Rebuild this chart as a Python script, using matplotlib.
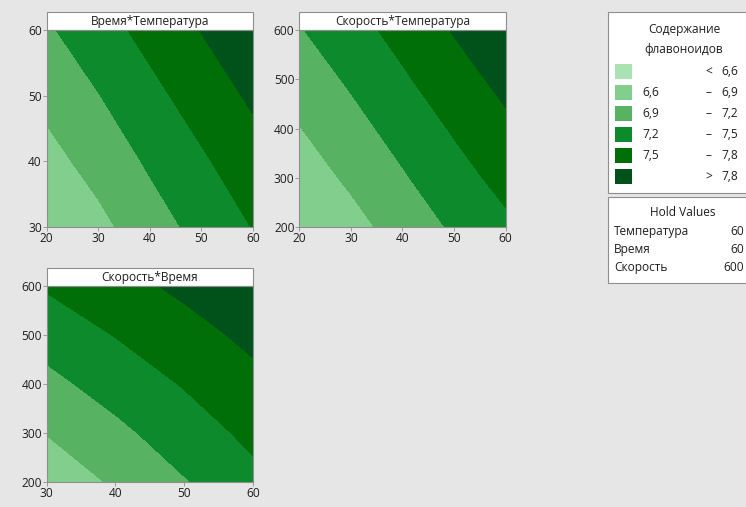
import numpy as np
import matplotlib
matplotlib.use('Agg')
import matplotlib.pyplot as plt
from matplotlib.patches import Rectangle

plt.rcParams['font.family'] = ['Open Sans', 'DejaVu Sans']

W, H = 746, 507

# response grids (flavonoid content) for each pair of factors
temp_nodes = [20, 30, 40, 50, 60]
time_nodes = [30, 40, 50, 60]
speed_nodes = [200, 300, 400, 500, 600]
time_nodes_x = [30, 40, 50, 60]

z_time_temp = [
    [6.62, 6.82, 7.07, 7.29, 7.51],
    [6.80, 7.01, 7.24, 7.46, 7.67],
    [6.98, 7.19, 7.42, 7.63, 7.85],
    [7.16, 7.38, 7.59, 7.81, 8.02],
]
z_speed_temp = [
    [6.61, 6.80, 7.02, 7.24, 7.44],
    [6.75, 6.95, 7.17, 7.39, 7.59],
    [6.89, 7.10, 7.31, 7.53, 7.74],
    [7.04, 7.24, 7.46, 7.68, 7.88],
    [7.18, 7.39, 7.60, 7.82, 8.03],
]
z_speed_time = [
    [6.70, 6.94, 7.18, 7.42],
    [6.91, 7.13, 7.35, 7.57],
    [7.12, 7.32, 7.52, 7.72],
    [7.32, 7.51, 7.69, 7.87],
    [7.53, 7.70, 7.86, 8.03],
]

levels = [0, 6.6, 6.9, 7.2, 7.5, 7.8, 10]
colors = ['#abe2b4', '#82cf8d', '#57b262', '#0d8a2b', '#006f08', '#00521b']
legend_lo = ['', '6,6', '6,9', '7,2', '7,5', '']
legend_sep = ['<', '–', '–', '–', '–', '>']
legend_hi = ['6,6', '6,9', '7,2', '7,5', '7,8', '7,8']

hold_names = ['Температура', 'Время', 'Скорость']
hold_values = [60, 60, 600]

panels = [
    ('Время*Температура', temp_nodes, time_nodes, z_time_temp, (46.7, 30, 206.3, 197)),
    ('Скорость*Температура', temp_nodes, speed_nodes, z_speed_temp, (299.3, 30, 206.3, 197)),
    ('Скорость*Время', time_nodes_x, speed_nodes, z_speed_time, (46.7, 286, 206.3, 196)),
]

bg = '#e6e6e6'
edge = '#8e8e8e'
ink = '#1e1e1e'
fs = 8.6

fig = plt.figure(figsize=(W / 100, H / 100), dpi=100, facecolor=bg)


def fx(x):
    return x / W


def fy(y):
    return 1 - y / H


for title, xs, ys, z, (left, top, w, h) in panels:
    ax = fig.add_axes([fx(left), fy(top + h), w / W, h / H])
    ax.contourf(xs, ys, np.array(z), levels=levels, colors=colors)
    ax.set_xlim(xs[0], xs[-1])
    ax.set_ylim(ys[0], ys[-1])
    ax.set_xticks(xs)
    ax.set_yticks(ys)
    for s in ax.spines.values():
        s.set_color(edge)
        s.set_linewidth(0.8)
    ax.tick_params(labelsize=fs, length=3, width=0.6, color=edge, pad=0.5,
                   labelcolor=ink)
    # title strip above the plot area
    th = 18 / h
    ax.add_patch(Rectangle((0, 1), 1, th, transform=ax.transAxes,
                           facecolor='white', edgecolor=edge, lw=0.8, clip_on=False))
    ax.text(0.5, 1 + th / 2, title, transform=ax.transAxes, ha='center',
            va='center', fontsize=fs, color=ink)

# legend box
fig.add_artist(Rectangle((fx(608), fy(193)), fx(746 - 608 + 5), (193 - 12) / H,
                         facecolor='white', edgecolor=edge, lw=0.8))
fig.text(fx(684), fy(30), 'Содержание', ha='center', va='center', fontsize=fs, color=ink)
fig.text(fx(684), fy(49), 'флавоноидов', ha='center', va='center', fontsize=fs, color=ink)
for i in range(len(colors)):
    yc = 71.7 + i * 21
    fig.add_artist(Rectangle((fx(615), fy(yc + 7.5)), 17 / W, 15 / H,
                             facecolor=colors[i], edgecolor='none'))
    fig.text(fx(642), fy(yc), legend_lo[i], ha='left', va='center', fontsize=fs, color=ink)
    fig.text(fx(709), fy(yc), legend_sep[i], ha='center', va='center', fontsize=fs, color=ink)
    fig.text(fx(738), fy(yc), legend_hi[i], ha='right', va='center', fontsize=fs, color=ink)

# hold values box
fig.add_artist(Rectangle((fx(608), fy(283)), fx(746 - 608 + 5), (283 - 197) / H,
                         facecolor='white', edgecolor=edge, lw=0.8))
fig.text(fx(683), fy(213), 'Hold Values', ha='center', va='center', fontsize=fs, color=ink)
for i, (name, val) in enumerate(zip(hold_names, hold_values)):
    yc = 231.5 + i * 18
    fig.text(fx(614), fy(yc), name, ha='left', va='center', fontsize=fs, color=ink)
    fig.text(fx(744), fy(yc), str(val), ha='right', va='center', fontsize=fs, color=ink)

fig.savefig('out.png', dpi=100, facecolor=bg)
